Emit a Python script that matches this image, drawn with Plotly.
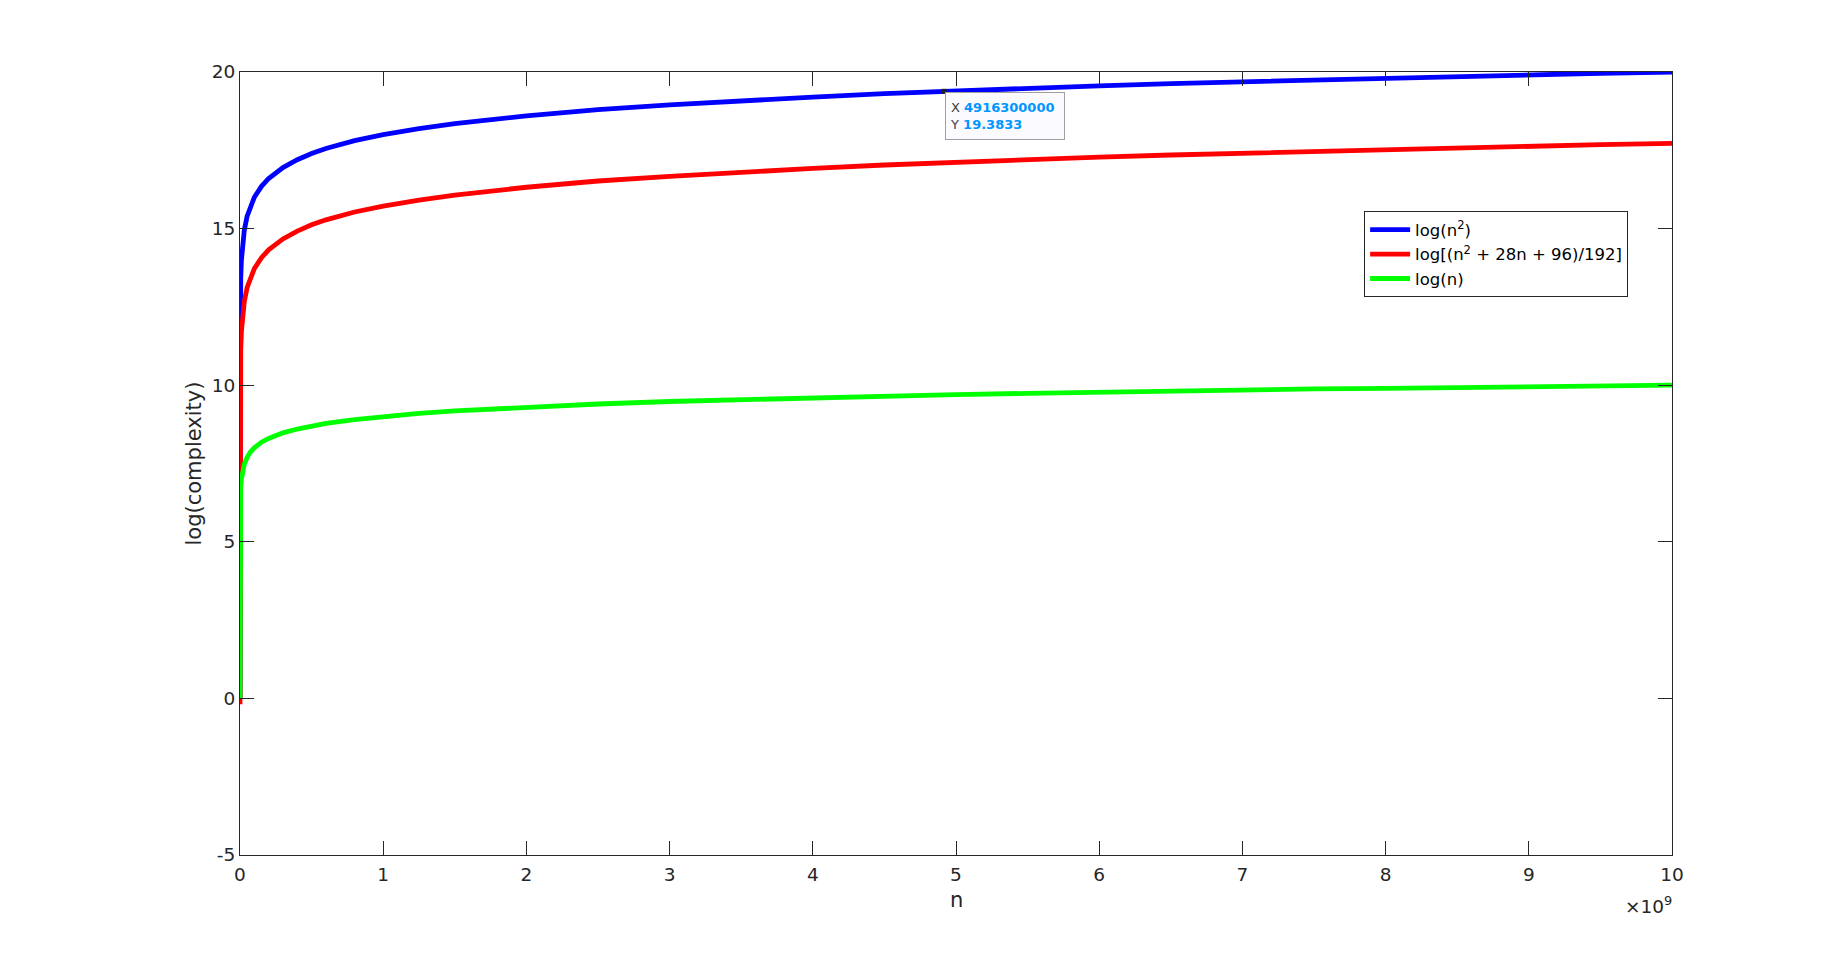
import plotly.graph_objects as go

# ---- data ----
n_values = [1, 1e5, 1e6, 5e6, 1e7, 2e7, 3e7, 5e7, 7e7, 1e8, 1.5e8, 2e8, 3e8, 4e8, 5e8,
            6e8, 8e8, 1e9, 1.25e9, 1.5e9, 2e9, 2.5e9, 3e9, 3.5e9, 4e9, 4.5e9, 5e9,
            5.5e9, 6e9, 6.5e9, 7e9, 7.5e9, 8e9, 8.5e9, 9e9, 9.5e9, 1e10]

log_n2 = [0.00, 10.00, 12.00, 13.40, 14.00, 14.60, 14.95, 15.40, 15.69, 16.00, 16.35,
          16.60, 16.95, 17.20, 17.40, 17.56, 17.81, 18.00, 18.19, 18.35, 18.60, 18.80,
          18.95, 19.09, 19.20, 19.31, 19.40, 19.48, 19.56, 19.63, 19.69, 19.75, 19.81,
          19.86, 19.91, 19.96, 20.00]

log_poly = [-0.19, 7.72, 9.72, 11.12, 11.72, 12.32, 12.67, 13.12, 13.41, 13.72, 14.07,
            14.32, 14.67, 14.92, 15.12, 15.28, 15.53, 15.72, 15.91, 16.07, 16.32, 16.52,
            16.67, 16.81, 16.92, 17.03, 17.12, 17.20, 17.28, 17.35, 17.41, 17.47, 17.53,
            17.58, 17.63, 17.68, 17.72]

log_n = [0.00, 5.00, 6.00, 6.70, 7.00, 7.30, 7.48, 7.70, 7.85, 8.00, 8.18, 8.30, 8.48,
         8.60, 8.70, 8.78, 8.90, 9.00, 9.10, 9.18, 9.30, 9.40, 9.48, 9.54, 9.60, 9.65,
         9.70, 9.74, 9.78, 9.81, 9.85, 9.88, 9.90, 9.93, 9.95, 9.98, 10.00]

series_names = ["log(n<sup>2</sup>)", "log[(n<sup>2</sup> + 28n + 96)/192]", "log(n)"]
series_colors = ["#0000FF", "#FF0000", "#00FF00"]

x_tick_vals = [0, 1e9, 2e9, 3e9, 4e9, 5e9, 6e9, 7e9, 8e9, 9e9, 1e10]
x_tick_text = ["0", "1", "2", "3", "4", "5", "6", "7", "8", "9", "10"]
y_tick_vals = [-5, 0, 5, 10, 15, 20]
y_tick_text = ["-5", "0", "5", "10", "15", "20"]

tip_x = 4916300000
tip_y = 19.3833

FONT = "DejaVu Sans"
INK = "#262626"
TICK_SIZE = 18.5

fig = go.Figure()
for ys, name, col in zip([log_n2, log_poly, log_n], series_names, series_colors):
    fig.add_trace(go.Scatter(x=n_values, y=ys, mode="lines", name=name,
                             line=dict(color=col, width=4.8)))

fig.add_trace(go.Scatter(x=[tip_x], y=[tip_y], mode="markers", showlegend=False,
                         marker=dict(symbol="square", size=5, color="#202020")))

fig.add_annotation(x=tip_x, y=tip_y, xref="x", yref="y", xanchor="left", yanchor="top",
                   xshift=1, yshift=-1, showarrow=False, align="left", valign="middle",
                   text=("<span style='color:#404040'>X</span> <b>4916300000</b><br>"
                         "<span style='color:#404040'>Y</span> <b>19.3833</b>"),
                   font=dict(family=FONT, size=13, color="rgb(0,150,255)"),
                   bgcolor="#FAFAFF", bordercolor="#A0A0A0", borderwidth=1,
                   borderpad=4, width=110, height=38)

# axis titles and exponent
fig.add_annotation(x=0.5, y=0, xref="paper", yref="paper", xanchor="center", yanchor="middle",
                   yshift=-45, showarrow=False, text="n",
                   font=dict(family=FONT, size=21, color=INK))
fig.add_annotation(x=0, y=0.5, xref="paper", yref="paper", xanchor="center", yanchor="middle",
                   xshift=-47, showarrow=False, text="log(complexity)", textangle=-90,
                   font=dict(family=FONT, size=21, color=INK))
fig.add_annotation(x=1, y=0, xref="paper", yref="paper", xanchor="right", yanchor="top",
                   yshift=-36, xshift=2, showarrow=False, text="×10<sup>9</sup>",
                   font=dict(family=FONT, size=TICK_SIZE, color=INK))

axis_common = dict(showline=True, linecolor=INK, linewidth=1, mirror="ticks",
                   ticks="inside", ticklen=14, tickcolor=INK, tickwidth=1,
                   showgrid=False, zeroline=False,
                   tickfont=dict(family=FONT, size=TICK_SIZE, color=INK))

fig.update_layout(
    width=1832, height=945,
    margin=dict(l=232, r=168, t=64, b=98, autoexpand=False),
    paper_bgcolor="white", plot_bgcolor="white",
    xaxis=dict(range=[0, 1e10], tickvals=x_tick_vals, ticktext=x_tick_text,
               ticklabelstandoff=3, **axis_common),
    yaxis=dict(range=[-5, 20], tickvals=y_tick_vals, ticktext=y_tick_text, **axis_common),
    legend=dict(x=0.785, y=0.822, xanchor="left", yanchor="top",
                bgcolor="white", bordercolor=INK, borderwidth=1,
                font=dict(family=FONT, size=16.5, color="#000000"),
                tracegroupgap=0, itemwidth=40),
    showlegend=True,
)

fig.write_html("out.html")
